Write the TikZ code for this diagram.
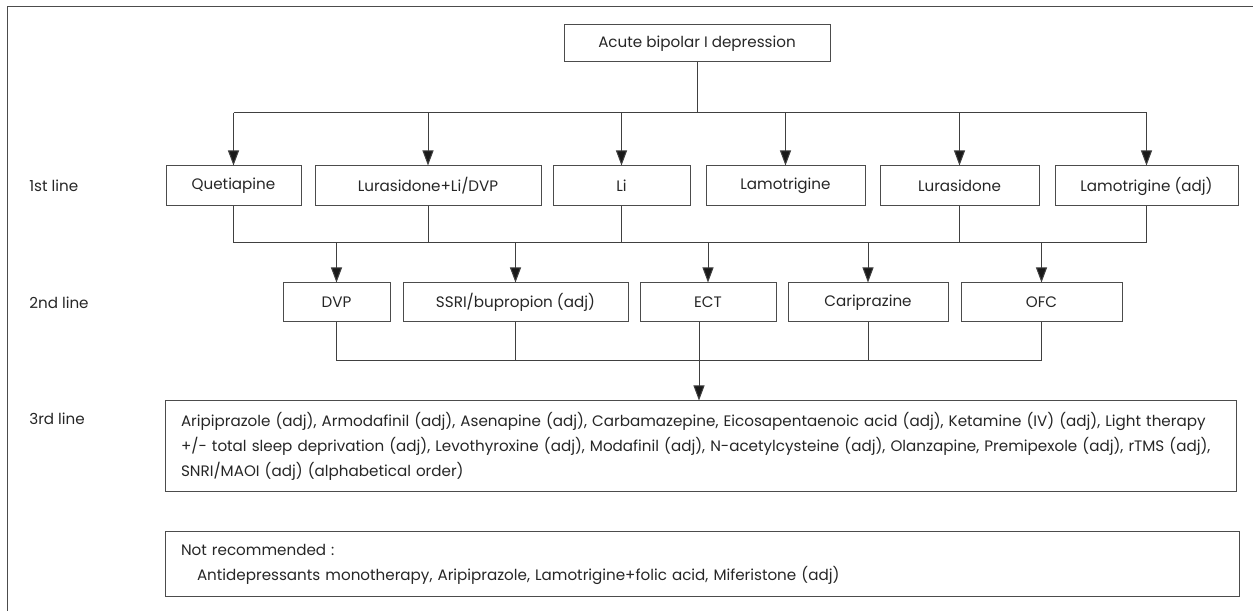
\documentclass[tikz,border=0pt]{standalone}
\usepackage{fontspec}
\setmainfont{Poppins}
\usetikzlibrary{arrows.meta}

\begin{document}
\begin{tikzpicture}[x=0.6pt, y=-0.6pt,
	box/.style={draw=black!70, line width=0.6pt, inner sep=0pt, minimum height=24pt, text=black!85, font=\fontsize{9.1}{15}\selectfont},
	lbl/.style={anchor=west, inner sep=0pt, text=black!85, font=\fontsize{9.1}{15}\selectfont},
	link/.style={draw=black!75, line width=0.6pt},
	arr/.style={link, -{Triangle[length=9pt,width=6.6pt,fill=black!90]}}]
	%%%%% START %%%%%
	
	\useasboundingbox (0,0) rectangle (1253,611);
	\draw[black!70, line width=0.6pt] (7,611) -- (7,7) -- (1253,7);
	
	\node[box, minimum width=159.6pt, minimum height=22.2pt] (acute) at (697,43.5) {Acute bipolar I depression};
	
	\node[lbl] (first) at (29,186) {1st line};
	\node[lbl] (second) at (29,302.5) {2nd line};
	\node[lbl] (third) at (29,419) {3rd line};
	
	\node[box, minimum width=81pt] (quet) at (233.5,186) {Quetiapine};
	\node[box, minimum width=135.6pt] (lurli) at (428,186) {Lurasidone+Li/DVP};
	\node[box, minimum width=82.2pt] (li) at (621.5,186) {Li};
	\node[box, minimum width=95.4pt] (lamo) at (785.5,186) {Lamotrigine};
	\node[box, minimum width=95.4pt] (luras) at (959.5,186) {Lurasidone};
	\node[box, minimum width=109.8pt] (lamadj) at (1146.5,186) {Lamotrigine (adj)};
	
	\node[box, minimum width=64.2pt, minimum height=23.4pt] (dvp) at (336.5,302.5) {DVP};
	\node[box, minimum width=135pt, minimum height=23.4pt] (ssri) at (515.5,302.5) {SSRI/bupropion (adj)};
	\node[box, minimum width=81.6pt, minimum height=23.4pt] (ect) at (708,302.5) {ECT};
	\node[box, minimum width=96pt, minimum height=23.4pt] (cari) at (868,302.5) {Cariprazine};
	\node[box, minimum width=96.6pt, minimum height=23.4pt] (ofc) at (1041.5,302.5) {OFC};
	
	\node[box, minimum width=642.6pt, minimum height=54.6pt, text width=623.4pt, align=left] (thirdbox) at (700.5,446.5) {Aripiprazole (adj), Armodafinil (adj), Asenapine (adj), Carbamazepine, Eicosapentaenoic acid (adj), Ketamine (IV) (adj), Light therapy\\
	+/- total sleep deprivation (adj), Levothyroxine (adj), Modafinil (adj), N-acetylcysteine (adj), Olanzapine, Premipexole (adj), rTMS (adj),\\
	SNRI/MAOI (adj) (alphabetical order)};
	
	\node[box, minimum width=644.4pt, minimum height=39pt, text width=625.2pt, align=left] (notrec) at (702,564.5) {Not recommended :\\
	\hspace*{9.6pt}Antidepressants monotherapy, Aripiprazole, Lamotrigine+folic acid, Miferistone (adj)};
	
	\coordinate (bus1) at (697,113);
	\coordinate (bus2) at (697,243);
	\coordinate (bus3) at (697,361);
	
	\draw[link] (acute.south) -- (bus1);
	\draw[link] (quet.north |- bus1) -- (lamadj.north |- bus1);
	\foreach \n in {quet,lurli,li,lamo,luras,lamadj}
		\draw[arr] (\n.north |- bus1) -- (\n.north);
	
	\foreach \n in {quet,lurli,li,luras,lamadj}
		\draw[link] (\n.south) -- (\n.south |- bus2);
	\draw[link] (quet.south |- bus2) -- (lamadj.south |- bus2);
	\foreach \n in {dvp,ssri,ect,cari,ofc}
		\draw[arr] (\n.north |- bus2) -- (\n.north);
	
	\foreach \n in {dvp,ssri,cari,ofc}
		\draw[link] (\n.south) -- (\n.south |- bus3);
	\draw[link] (dvp.south |- bus3) -- (ofc.south |- bus3);
	\draw[arr] ([xshift=-5.4pt]ect.south) -- ([xshift=-5.4pt]ect.south |- thirdbox.north);
	
	%%%%% END %%%%%
\end{tikzpicture}
\end{document}
